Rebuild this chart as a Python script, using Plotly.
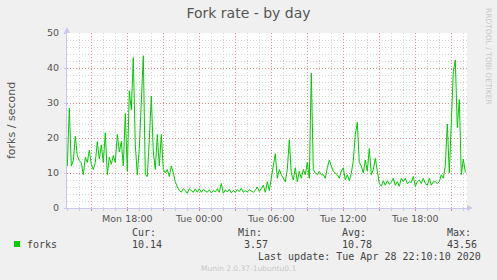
import pandas as pd
import plotly.graph_objects as go

# ---- data (10-minute samples) ----
start_time = "2020-04-27 13:00"
forks = [
    12, 28.5, 12, 13.5, 20.5, 15, 13.5, 13, 9.5, 14.5,
    13, 16.5, 12.5, 11, 13, 19, 14, 18, 13, 21.5,
    9.5, 14.5, 12.5, 15, 13, 21, 16, 19, 12, 27,
    10.5, 33.5, 28, 43, 18, 9.5, 17, 30, 43.5, 9.5,
    9, 19.5, 32, 16, 11, 21, 12, 21, 11, 10,
    11, 9, 12, 10, 7.5, 6, 5, 4.5, 5.5, 5,
    4.2, 5.5, 5, 4.5, 5.5, 4.5, 5.5, 4.5, 5.3, 4.8,
    4.5, 5.2, 4.3, 5, 4.6, 5.5, 4.5, 7, 4.2, 5.2,
    4.6, 5.4, 4.3, 5, 4.5, 5.3, 4.7, 5.6, 4.5, 5,
    4.6, 5.2, 4.8, 4.5, 5, 6, 4.7, 5.5, 6.5, 4.5,
    7.5, 5, 9, 12, 15.5, 8.5, 11, 9.5, 8.5, 7.5,
    11, 19.5, 10, 8, 11.5, 7.5, 10.5, 8.5, 11, 9.5,
    13, 8.5, 38.5, 11, 10, 9.5, 10.5, 9.5, 9.5, 8.5,
    11.5, 13.7, 12, 10.5, 10, 9.5, 8.5,
    10.5, 11.5, 8, 9.5, 7.8, 10, 13.5, 21, 24.5, 13,
    12, 10, 13.7, 10.5, 17, 9.5, 11, 14.2, 10, 7,
    6.2, 7.8, 6.5, 7.8, 6.8, 7.3, 8.5, 6.5, 7.5, 6.2,
    8.5, 7.5, 8.5, 7, 7.5, 7.3, 9, 6.2, 7.5, 8,
    7, 8.5, 7, 6.5, 8.5, 6.5, 7.5, 7.5, 7, 7.5,
    9.5, 8.5, 12, 24, 10, 25, 39, 42.3, 23, 31,
    9.5, 14, 10.14,
]
times = pd.date_range(start_time, periods=len(forks), freq="10min")

x_range = ["2020-04-27 12:58:30", "2020-04-28 22:18:30"]
grid_ticks = pd.date_range("2020-04-27 15:00", "2020-04-28 21:00", freq="3h")
tick_labels = {"2020-04-27 18:00": "Mon 18:00", "2020-04-28 00:00": "Tue 00:00",
               "2020-04-28 06:00": "Tue 06:00", "2020-04-28 12:00": "Tue 12:00",
               "2020-04-28 18:00": "Tue 18:00"}
y_ticks = [0, 10, 20, 30, 40, 50]

legend_name = "forks"
stat_heads = ["Cur:", "Min:", "Avg:", "Max:"]
stat_vals = ["10.14", " 3.57", "10.78", "43.56"]
last_update = "Last update: Tue Apr 28 22:10:10 2020"

# ---- layout geometry (pixels) ----
W, H = 497, 280
L, R, T, B = 67, 467, 33, 208


def px(x):
    return (x - L) / (R - L)


def py(y):
    return (B - y) / (B - T)


GREEN = "#00cc00"
AXIS = "#c8c8ee"
TXT = "#555555"

fig = go.Figure()
fig.add_trace(go.Scatter(x=times, y=forks, mode="lines",
                         line=dict(color=GREEN, width=1), hoverinfo="skip",
                         showlegend=False))

ticktext = [tick_labels.get(t.strftime("%Y-%m-%d %H:%M"), "") for t in grid_ticks]

fig.update_layout(
    width=W, height=H,
    margin=dict(l=L, r=W - R, t=T, b=H - B, pad=0),
    paper_bgcolor="#f0f0f0", plot_bgcolor="#ffffff",
    font=dict(family="DejaVu Sans", size=10, color=TXT),
    title=dict(text="Fork rate - by day", x=0.5, xref="container", xanchor="center",
               y=1 - 13 / H, yref="container", yanchor="middle",
               font=dict(family="DejaVu Sans", size=14, color=TXT)),
    showlegend=False,
)
fig.update_xaxes(
    type="date", range=x_range, tickvals=list(grid_ticks), ticktext=ticktext,
    showgrid=True, gridcolor="rgba(230,120,120,0.75)", griddash="1px,2px", gridwidth=1,
    ticks="outside", ticklen=2, tickcolor="rgba(230,120,120,0.9)",
    tickfont=dict(family="DejaVu Sans", size=9.5, color=TXT),
    showline=True, linecolor=AXIS, linewidth=1, zeroline=False,
    minor=dict(dtick=3600000, tick0="2020-04-27 00:00", showgrid=True,
               gridcolor="#d4d4d4", griddash="1px,2px", gridwidth=1,
               ticks="outside", ticklen=2, tickcolor="#cccccc"),
    automargin=False, fixedrange=True,
)
fig.update_yaxes(
    range=[0, 50], tickvals=y_ticks,
    showgrid=True, gridcolor="rgba(230,120,120,0.75)", griddash="1px,2px", gridwidth=1,
    ticks="outside", ticklen=2, tickcolor=AXIS,
    tickfont=dict(family="DejaVu Sans", size=9.5, color=TXT),
    showline=True, linecolor=AXIS, linewidth=1, zeroline=False,
    minor=dict(dtick=2, showgrid=True, gridcolor="#d4d4d4", griddash="1px,2px", gridwidth=1),
    ticklabelstandoff=3,
    automargin=False, fixedrange=True,
)

# axis arrows
fig.add_shape(type="path", xref="paper", yref="paper",
              path=f"M {px(R)} {py(B - 3)} L {px(R + 6)} {py(B)} L {px(R)} {py(B + 3)} Z",
              fillcolor=AXIS, line=dict(width=0))
fig.add_shape(type="path", xref="paper", yref="paper",
              path=f"M {px(L - 3)} {py(T)} L {px(L)} {py(T - 6)} L {px(L + 3)} {py(T)} Z",
              fillcolor=AXIS, line=dict(width=0))

# legend swatch
fig.add_shape(type="rect", xref="paper", yref="paper",
              x0=px(14), x1=px(20), y0=py(241), y1=py(247),
              fillcolor=GREEN, line=dict(width=0))

MONO = dict(family="DejaVu Sans Mono", size=10, color="#444444")


def text(s, x, y, anchor="left", font=MONO, **kw):
    fig.add_annotation(text=s, x=px(x), y=py(y), xref="paper", yref="paper",
                       xanchor=anchor, yanchor="middle", showarrow=False,
                       font=font, **kw)


text("forks / second", 11, 120, anchor="center",
     font=dict(family="DejaVu Sans", size=11, color=TXT), textangle=-90)
text(legend_name, 25, 244)
stat_x = [130, 236, 340, 445]
for h, v, x in zip(stat_heads, stat_vals, stat_x):
    text(h, x, 232.5)
    text(v.replace(" ", "\u00a0"), x, 244)
text(last_update, 483, 256.5, anchor="right")
text("Munin 2.0.37-1ubuntu0.1", 248, 268.5, anchor="center",
     font=dict(family="DejaVu Sans", size=7.5, color="#c8c8c8"))
text("RRDTOOL / TOBI OETIKER", 489, 56, anchor="center",
     font=dict(family="DejaVu Sans", size=7.5, color="#c8c8c8"), textangle=90)

fig.write_html("out.html", config={"displayModeBar": False})
